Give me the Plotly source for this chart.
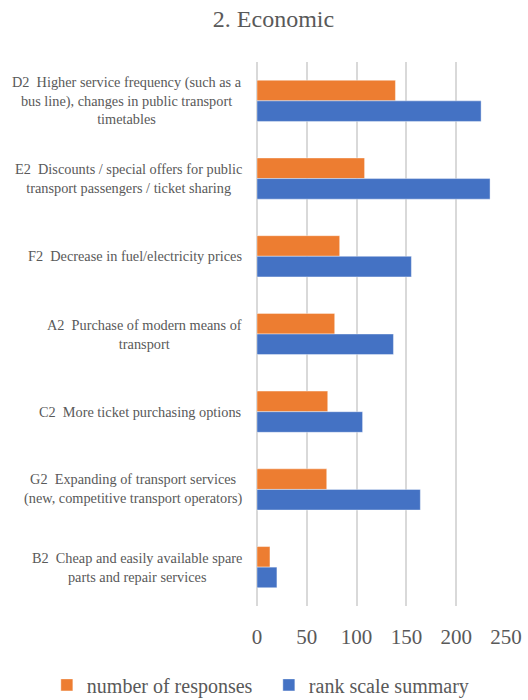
import plotly.graph_objects as go

categories = [
    "D2\u00a0 Higher service frequency (such as a<br>bus line), changes in public transport<br>timetables",
    "E2\u00a0 Discounts / special offers for public<br>transport passengers / ticket sharing",
    "F2\u00a0 Decrease in fuel/electricity prices",
    "A2\u00a0 Purchase of modern means of<br>transport",
    "C2\u00a0 More ticket purchasing options",
    "G2\u00a0 Expanding of transport services<br>(new, competitive transport operators)",
    "B2\u00a0 Cheap and easily available spare<br>parts and repair services",
]
responses = [139, 108, 83, 78, 71, 70, 13]
rank_summary = [225, 234, 155, 137, 106, 164, 20]
tick_values = [0, 50, 100, 150, 200, 250]

serif = "Liberation Serif"
grey = "#595959"

fig = go.Figure()
fig.add_trace(go.Bar(
    y=categories, x=responses, orientation="h", name="number of responses",
    marker=dict(color="#ED7D31", line=dict(color="rgba(255,255,255,0.4)", width=1)),
))
fig.add_trace(go.Bar(
    y=categories, x=rank_summary, orientation="h", name="rank scale summary",
    marker=dict(color="#4472C4", line=dict(color="rgba(255,255,255,0.4)", width=1)),
))

# category labels: block right-aligned next to the axis, lines centred within the block
for cat in categories:
    fig.add_annotation(
        x=-0.052, xref="paper", xanchor="right", y=cat, yref="y",
        text=cat, showarrow=False, align="center",
        font=dict(family=serif, size=14.3, color=grey),
    )

fig.update_layout(
    width=528, height=700,
    margin=dict(l=257, r=22, t=62, b=94, autoexpand=False),
    paper_bgcolor="white", plot_bgcolor="white",
    barmode="group", bargap=0.47, bargroupgap=0,
    title=dict(text="2. Economic", x=0.518, xanchor="center", y=0.973, yanchor="middle",
               font=dict(family=serif, size=24, color=grey)),
    legend=dict(orientation="h", xref="paper", yref="paper",
                x=-0.844, xanchor="left", y=-0.145, yanchor="middle",
                entrywidth=177, entrywidthmode="pixels",
                font=dict(family=serif, size=20, color=grey), traceorder="normal"),
    showlegend=True,
)
fig.update_xaxes(range=[0, 250], tickvals=tick_values, showgrid=True, gridcolor="#d9d9d9",
                 gridwidth=1.5, zeroline=True, zerolinecolor="#d9d9d9", zerolinewidth=1.5,
                 tickfont=dict(family=serif, size=21, color=grey), ticks="", ticklabelstandoff=16)
fig.update_yaxes(autorange="reversed", showticklabels=False, showgrid=False, ticks="")

fig.write_html("out.html")
